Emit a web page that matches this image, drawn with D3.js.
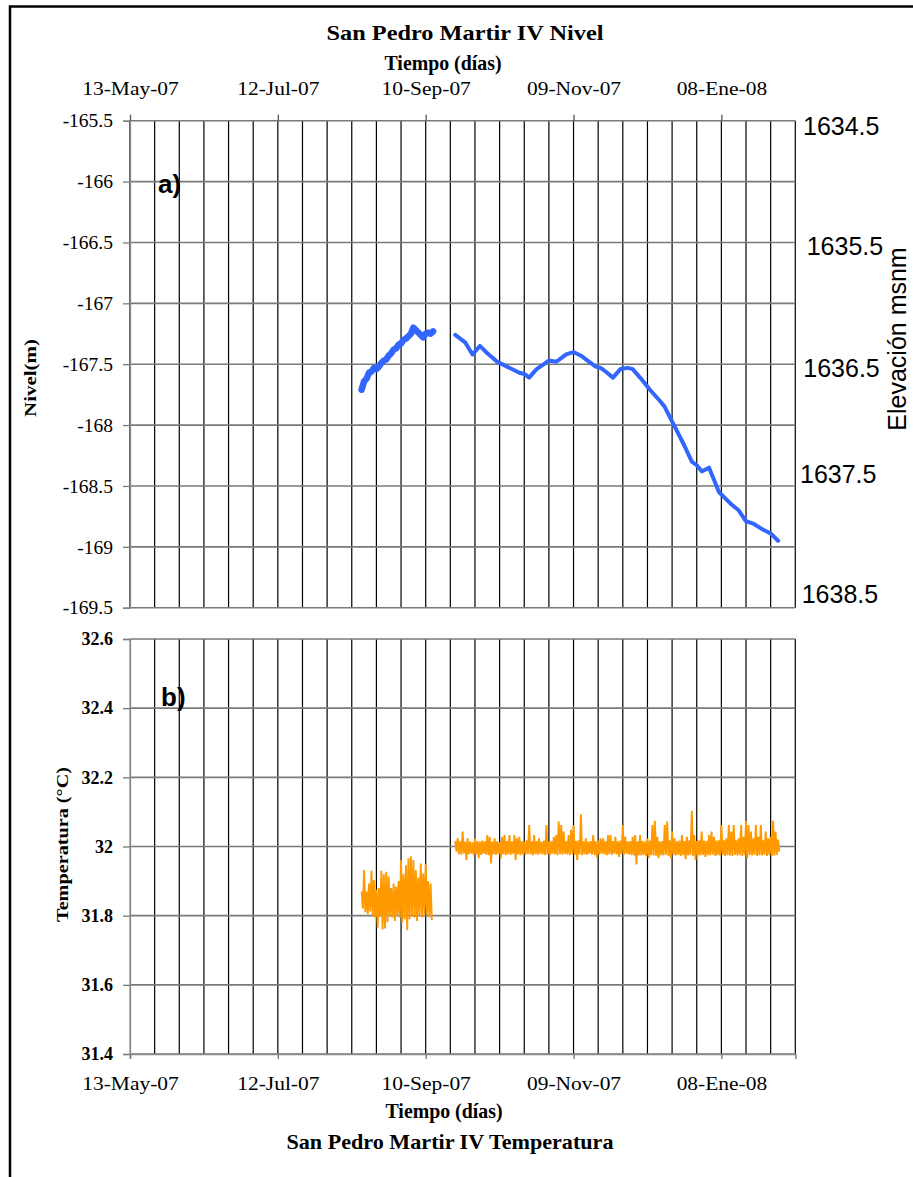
<!DOCTYPE html>
<html><head><meta charset="utf-8">
<script src="https://cdn.jsdelivr.net/npm/d3@7"></script>
<style>body{margin:0;background:#fff} svg{display:block}</style>
</head><body>
<svg id="c" width="913" height="1177"></svg>
<script>
// ---------------- DATA ----------------
const xDomain = ["2007-05-13", "2008-02-07"];
const dateTicks = ["2007-05-13", "2007-07-12", "2007-09-10", "2007-11-09", "2008-01-08"];
const dateTickLabels = ["13-May-07", "12-Jul-07", "10-Sep-07", "09-Nov-07", "08-Ene-08"];

const nivelTicks = [-165.5, -166, -166.5, -167, -167.5, -168, -168.5, -169, -169.5];
const nivelTickLabels = ["-165.5", "-166", "-166.5", "-167", "-167.5", "-168", "-168.5", "-169", "-169.5"];
const elevLabels = ["1634.5", "1635.5", "1636.5", "1637.5", "1638.5"];
const elevLevels = [-165.5, -166.5, -167.5, -168.5, -169.5];

const tempTicks = [32.6, 32.4, 32.2, 32, 31.8, 31.6, 31.4];
const tempTickLabels = ["32.6", "32.4", "32.2", "32", "31.8", "31.6", "31.4"];

const nivel1Dates = ["2007-08-15","2007-08-16","2007-08-17","2007-08-18","2007-08-19","2007-08-20","2007-08-21","2007-08-22","2007-08-23","2007-08-24","2007-08-25","2007-08-26","2007-08-27","2007-08-28","2007-08-29","2007-08-30","2007-08-31","2007-09-01","2007-09-02","2007-09-03","2007-09-04","2007-09-05","2007-09-06","2007-09-07","2007-09-08","2007-09-09","2007-09-10","2007-09-11","2007-09-12","2007-09-13"];
const nivel1Values = [-167.71,-167.64,-167.62,-167.57,-167.56,-167.53,-167.54,-167.52,-167.49,-167.47,-167.46,-167.43,-167.41,-167.38,-167.37,-167.34,-167.33,-167.30,-167.29,-167.27,-167.25,-167.20,-167.22,-167.24,-167.26,-167.28,-167.25,-167.24,-167.25,-167.23];

const nivel2Dates = ["2007-09-22","2007-09-26","2007-09-29","2007-10-02","2007-10-05","2007-10-09","2007-10-13","2007-10-16","2007-10-18","2007-10-20","2007-10-22","2007-10-25","2007-10-28","2007-10-30","2007-11-02","2007-11-04","2007-11-06","2007-11-09","2007-11-12","2007-11-14","2007-11-18","2007-11-20","2007-11-22","2007-11-25","2007-11-28","2007-12-01","2007-12-03","2007-12-06","2007-12-10","2007-12-14","2007-12-16","2007-12-18","2007-12-21","2007-12-24","2007-12-27","2007-12-29","2007-12-31","2008-01-03","2008-01-05","2008-01-07","2008-01-10","2008-01-12","2008-01-15","2008-01-18","2008-01-21","2008-01-25","2008-01-28","2008-01-31"];
const nivel2Values = [-167.26,-167.32,-167.42,-167.35,-167.41,-167.48,-167.52,-167.55,-167.57,-167.58,-167.61,-167.54,-167.50,-167.47,-167.48,-167.45,-167.42,-167.40,-167.43,-167.46,-167.52,-167.53,-167.56,-167.61,-167.54,-167.53,-167.54,-167.61,-167.71,-167.80,-167.85,-167.93,-168.05,-168.17,-168.30,-168.33,-168.38,-168.35,-168.45,-168.55,-168.61,-168.65,-168.70,-168.79,-168.81,-168.86,-168.89,-168.95];

// daily max / min temperature readings
const temp1Start = "2007-08-15";
const temp1Max = [31.870,31.932,31.870,31.893,31.930,31.903,31.875,31.880,31.930,31.920,31.927,31.913,31.880,31.893,31.884,31.900,31.961,31.920,31.946,31.966,31.972,31.961,31.932,31.910,31.951,31.922,31.950,31.900,31.893];
const temp1Min = [31.820,31.810,31.805,31.812,31.800,31.795,31.766,31.800,31.760,31.763,31.782,31.800,31.795,31.785,31.800,31.795,31.780,31.790,31.758,31.790,31.800,31.795,31.785,31.800,31.795,31.805,31.802,31.795,31.787];

const temp2Start = "2007-09-22";
const temp2Max = [32.016,32.024,32.015,32.043,32.014,32.024,32.015,32.012,32.024,32.016,
 32.014,32.017,32.015,32.033,32.028,32.014,32.024,32.015,32.013,32.028,
 32.033,32.016,32.033,32.015,32.033,32.024,32.028,32.016,32.014,32.018,
 32.062,32.015,32.033,32.016,32.024,32.014,32.017,32.062,32.015,32.016,
 32.028,32.033,32.072,32.062,32.043,32.015,32.033,32.048,32.062,32.016,
 32.018,32.093,32.015,32.024,32.014,32.016,32.033,32.015,32.017,32.024,
 32.024,32.015,32.033,32.033,32.016,32.028,32.015,32.017,32.062,32.028,
 32.015,32.016,32.028,32.033,32.015,32.033,32.016,32.014,32.024,32.017,
 32.062,32.074,32.028,32.015,32.016,32.062,32.072,32.018,32.043,32.024,
 32.015,32.017,32.033,32.016,32.028,32.018,32.103,32.033,32.016,32.018,
 32.043,32.017,32.016,32.033,32.043,32.028,32.017,32.018,32.062,32.018,
 32.024,32.062,32.043,32.062,32.018,32.024,32.062,32.028,32.074,32.062,
 32.043,32.024,32.062,32.028,32.062,32.018,32.043,32.024,32.028,32.074,
 32.043,32.020];
const temp2Min = [31.985,31.978,31.976,31.980,31.961,31.977,31.979,31.975,31.978,31.966,
 31.976,31.979,31.977,31.975,31.951,31.978,31.976,31.979,31.966,31.977,
 31.975,31.978,31.976,31.979,31.961,31.977,31.975,31.978,31.976,31.979,
 31.977,31.975,31.978,31.976,31.979,31.977,31.975,31.978,31.976,31.979,
 31.977,31.975,31.978,31.976,31.979,31.977,31.975,31.978,31.976,31.961,
 31.977,31.975,31.978,31.976,31.979,31.977,31.975,31.968,31.976,31.979,
 31.977,31.975,31.978,31.976,31.979,31.977,31.970,31.978,31.976,31.979,
 31.977,31.975,31.974,31.948,31.975,31.974,31.976,31.973,31.966,31.975,
 31.974,31.973,31.966,31.975,31.974,31.976,31.973,31.966,31.975,31.974,
 31.976,31.973,31.975,31.963,31.974,31.976,31.973,31.961,31.975,31.974,
 31.976,31.970,31.975,31.974,31.976,31.973,31.975,31.974,31.976,31.973,
 31.975,31.974,31.973,31.976,31.974,31.975,31.973,31.976,31.966,31.975,
 31.974,31.976,31.973,31.975,31.974,31.976,31.973,31.975,31.973,31.974,
 31.976,31.985];

// ---------------- DRAW ----------------
const svg = d3.select("#c");
const parse = d3.utcParse("%Y-%m-%d");
const SERIF = "'Liberation Serif','Times New Roman',serif";
const SANS = "'Liberation Sans',Arial,sans-serif";

const x = d3.scaleUtc().domain(xDomain.map(parse)).range([130, 795.3]);
const x0 = x.domain()[0];
const minorDays = d3.range(0, 271, 10).map(n => d3.utcDay.offset(x0, n));

const yN = d3.scaleLinear().domain([-169.5, -165.5]).range([607.7, 120.7]);
const yT = d3.scaleLinear().domain([31.4, 32.6]).range([1054, 639]);

// outer frame (left + top)
svg.append("path").attr("d", "M10,1177V6.5H913").attr("fill", "none")
  .attr("stroke", "#000").attr("stroke-width", 2.5);

function panel(y, ticks, labels, top, bottom, leftColor) {
  const g = svg.append("g");
  g.selectAll("line.v").data(minorDays).join("line").attr("class", "v")
    .attr("x1", d => x(d)).attr("x2", d => x(d))
    .attr("y1", top).attr("y2", bottom)
    .attr("stroke", (d, i) => i === 0 ? leftColor : "#000").attr("stroke-width", 1.2);
  g.selectAll("line.h").data(ticks).join("line").attr("class", "h")
    .attr("x1", 130).attr("x2", x.range()[1])
    .attr("y1", d => y(d)).attr("y2", d => y(d))
    .attr("stroke", "#7a7a7a").attr("stroke-width", 1.6);
  const ax = g.append("g").attr("transform", "translate(130,0)")
    .call(d3.axisLeft(y).tickValues(ticks).tickSize(7).tickPadding(10)
      .tickFormat((d, i) => labels[i]));
  ax.select(".domain").attr("stroke", "#8a8a8a").attr("stroke-width", 1.3);
  ax.selectAll(".tick line").attr("stroke", "#7a7a7a").attr("stroke-width", 1.3);
  return {g, ax};
}

// ---- Panel a) ----
const pa = panel(yN, nivelTicks, nivelTickLabels, 120.7, 607.7, "#000");
pa.ax.selectAll("text").attr("font-family", SERIF).attr("font-size", 19.5).attr("fill", "#000");

const axTop = svg.append("g").attr("transform", "translate(0,120.7)")
  .call(d3.axisTop(x).tickValues(dateTicks.map(parse)).tickSize(6).tickPadding(19.7)
    .tickFormat((d, i) => dateTickLabels[i]));
axTop.select(".domain").remove();
axTop.selectAll(".tick line").attr("stroke", "#555").attr("stroke-width", 1.3);
axTop.selectAll("text").attr("font-family", SERIF).attr("font-size", 19.5).attr("fill", "#000")
  .attr("transform", "scale(1.1,1)");

const lineN = d3.line().x(d => x(d[0])).y(d => yN(d[1]));
svg.append("path")
  .datum(nivel1Dates.map((d, i) => [parse(d), nivel1Values[i]]))
  .attr("d", lineN).attr("fill", "none").attr("stroke", "#3366ff")
  .attr("stroke-width", 6.5).attr("stroke-linejoin", "round").attr("stroke-linecap", "round");
svg.append("path")
  .datum(nivel2Dates.map((d, i) => [parse(d), nivel2Values[i]]))
  .attr("d", lineN).attr("fill", "none").attr("stroke", "#3366ff")
  .attr("stroke-width", 4).attr("stroke-linejoin", "round").attr("stroke-linecap", "round");

const elevDx = [803, 806.7, 803.3, 800, 801.7];
const elevDy = [14.3, 12.3, 12.7, -3, -4.7];
svg.selectAll("text.elev").data(elevLabels).join("text").attr("class", "elev")
  .attr("x", (d, i) => elevDx[i]).attr("y", (d, i) => yN(elevLevels[i]) + elevDy[i])
  .attr("font-family", SANS).attr("font-size", 25).attr("fill", "#000").text(d => d);
svg.append("text").attr("transform", "translate(906,339) rotate(-90)")
  .attr("text-anchor", "middle").attr("font-family", SANS).attr("font-size", 25)
  .attr("fill", "#000").text("Elevación msnm");

// ---- Panel b) ----
const pb = panel(yT, tempTicks, tempTickLabels, 639, 1054, "#8a8a8a");
pb.ax.selectAll("text").attr("font-family", SERIF).attr("font-size", 18).attr("font-weight", "bold").attr("fill", "#000");

const axBot = svg.append("g").attr("transform", "translate(0,1054)")
  .call(d3.axisBottom(x).tickValues(dateTicks.map(parse)).tickSize(5).tickPadding(17.2)
    .tickFormat((d, i) => dateTickLabels[i]));
axBot.select(".domain").attr("stroke", "#8a8a8a").attr("stroke-width", 1.6);
axBot.selectAll(".tick line").attr("stroke", "#7a7a7a").attr("stroke-width", 1.3);
axBot.selectAll("text").attr("font-family", SERIF).attr("font-size", 19.5).attr("fill", "#000")
  .attr("transform", "scale(1.1,1)");

function tempPoints(start, mx, mn) {
  const s = parse(start), pts = [];
  mx.forEach((v, i) => {
    pts.push([d3.utcHour.offset(s, i * 24), v]);
    pts.push([d3.utcHour.offset(s, i * 24 + 12), mn[i]]);
  });
  return pts;
}
const lineT = d3.line().x(d => x(d[0])).y(d => yT(d[1]));
[[temp1Start, temp1Max, temp1Min], [temp2Start, temp2Max, temp2Min]].forEach(([s, mx, mn]) => {
  svg.append("path").datum(tempPoints(s, mx, mn)).attr("d", lineT)
    .attr("fill", "none").attr("stroke", "#ff9900").attr("stroke-width", 1.9)
    .attr("stroke-linejoin", "miter");
});

// ---- Texts ----
function txt(xp, yp, s, size, weight, family, len, rot) {
  const t = svg.append("text").attr("text-anchor", "middle")
    .attr("font-family", family).attr("font-size", size).attr("font-weight", weight)
    .attr("fill", "#000").text(s);
  if (rot) t.attr("transform", `translate(${xp},${yp}) rotate(-90)`);
  else t.attr("x", xp).attr("y", yp);
  if (len) t.attr("textLength", len).attr("lengthAdjust", "spacingAndGlyphs");
  return t;
}
txt(465, 40, "San Pedro Martir IV Nivel", 22, "bold", SERIF, 277);
txt(443, 70, "Tiempo (días)", 21, "bold", SERIF, 117);
txt(444, 1118, "Tiempo (días)", 21, "bold", SERIF, 117);
txt(450, 1149, "San Pedro Martir IV Temperatura", 22, "bold", SERIF, 327);
txt(36, 378, "Nivel(m)", 17, "bold", SERIF, 78, true);
txt(67.5, 844.5, "Temperatura (°C)", 17, "bold", SERIF, 155, true);

svg.append("text").attr("x", 158).attr("y", 193).attr("font-family", SANS)
  .attr("font-size", 26).attr("font-weight", "bold").attr("fill", "#000").text("a)");
svg.append("text").attr("x", 161).attr("y", 706).attr("font-family", SANS)
  .attr("font-size", 26).attr("font-weight", "bold").attr("fill", "#000").text("b)");
</script>
</body></html>
